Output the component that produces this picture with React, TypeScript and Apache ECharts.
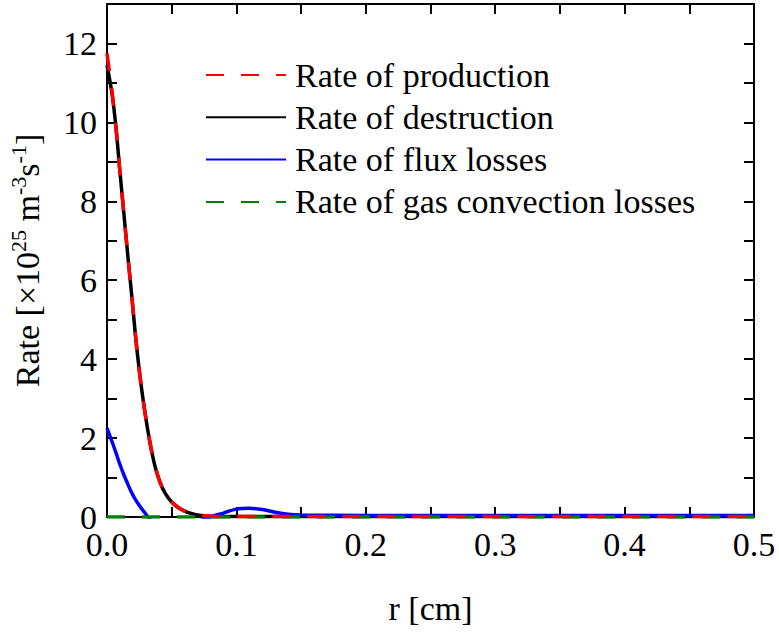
import React, { useEffect, useRef } from "react";
import * as echarts from "echarts";

// r positions [cm]
const rCoords = [0, 0.004, 0.007, 0.01, 0.013, 0.016, 0.019, 0.022, 0.025, 0.028, 0.031, 0.034, 0.037, 0.041, 0.045, 0.05, 0.055, 0.06, 0.065, 0.07, 0.08, 0.09, 0.1, 0.11, 0.12, 0.13, 0.14, 0.15, 0.2, 0.3, 0.4, 0.5];
// rates [x10^25 m^-3 s^-1]
const production = [11.75, 10.75, 9.85, 8.75, 7.7, 6.65, 5.65, 4.6, 3.7, 2.95, 2.3, 1.75, 1.3, 0.88, 0.6, 0.38, 0.24, 0.15, 0.09, 0.05, 0.02, 0.01, 0.01, 0.01, 0.01, 0.01, 0.01, 0.01, 0.01, 0.01, 0.01, 0.01];
const destruction = [11.45, 10.7, 9.85, 8.75, 7.7, 6.65, 5.65, 4.6, 3.7, 2.95, 2.3, 1.75, 1.3, 0.88, 0.6, 0.38, 0.24, 0.15, 0.09, 0.05, 0.02, 0.01, 0.01, 0.01, 0.01, 0.01, 0.01, 0.01, 0.01, 0.01, 0.01, 0.01];
const fluxLosses = [2.25, 1.9, 1.62, 1.33, 1.07, 0.84, 0.62, 0.44, 0.29, 0.16, 0.03, -0.08, -0.16, -0.24, -0.3, -0.34, -0.33, -0.28, -0.2, -0.12, 0.0, 0.1, 0.2, 0.22, 0.19, 0.12, 0.07, 0.05, 0.04, 0.04, 0.04, 0.04];
const convectionLosses = [0, 0, 0, 0, 0, 0, 0, 0, 0, 0, 0, 0, 0, 0, 0, 0, 0, 0, 0, 0, 0, 0, 0, 0, 0, 0, 0, 0, 0, 0, 0, 0];

const seriesNames = ["Rate of production", "Rate of destruction", "Rate of flux losses", "Rate of gas convection losses"];

const FONT = "Liberation Serif";

const pair = (vals: number[]) => rCoords.map((r, i) => [r, vals[i]]);

export default function App() {
  const ref = useRef<HTMLDivElement>(null);
  useEffect(() => {
    if (!ref.current) return;
    const chart = echarts.init(ref.current, null, { renderer: "svg" });
    const axisLine = { show: true, onZero: false, lineStyle: { color: "#000", width: 2 } };
    const axisTick = { show: true, inside: true, length: 10, lineStyle: { color: "#000", width: 2 } };
    const mk = (name: string, data: number[], color: string, type: any, z: number) => ({
      name,
      type: "line",
      data: pair(data),
      showSymbol: false,
      symbol: "none",
      smooth: 0.3,
      z,
      lineStyle: { color, width: 3.5, type },
      itemStyle: { color },
    });
    chart.setOption({
      animation: false,
      backgroundColor: "#fff",
      textStyle: { fontFamily: FONT, color: "#000" },
      grid: { left: 107, right: 25, top: 4, bottom: 115, containLabel: false, outerBoundsMode: "none" },
      legend: {
        orient: "vertical",
        left: 200,
        top: 53,
        padding: 5,
        itemWidth: 80,
        itemHeight: 2,
        itemGap: 8.3,
        data: seriesNames,
        itemStyle: { opacity: 0, borderWidth: 0 },
        textStyle: { fontFamily: FONT, fontSize: 34, color: "#000", padding: [0, 0, 0, 4] },
      },
      xAxis: [
        {
          type: "value",
          min: 0,
          max: 0.5,
          interval: 0.05,
          name: "r [cm]",
          nameLocation: "middle",
          nameGap: 74,
          nameTextStyle: { fontFamily: FONT, fontSize: 34, color: "#000" },
          axisLine,
          axisTick,
          splitLine: { show: false },
          axisLabel: {
            margin: 10,
            fontFamily: FONT,
            fontSize: 34,
            color: "#000",
            formatter: (v: number) => (Math.round(v * 100) % 10 === 0 ? v.toFixed(1) : ""),
          },
        },
        {
          type: "value",
          position: "top",
          min: 0,
          max: 0.5,
          interval: 0.05,
          axisLine,
          axisTick,
          splitLine: { show: false },
          axisLabel: { show: false },
        },
      ],
      yAxis: [
        {
          type: "value",
          min: 0,
          max: 13,
          interval: 1,
          name: "{n|Rate [×10}{s|25}{n| m}{s|-3}{n|s}{s|-1}{n|]}",
          nameLocation: "middle",
          nameGap: 60,
          nameTextStyle: {
            fontFamily: FONT,
            rich: {
              n: { fontFamily: FONT, fontSize: 34, color: "#000", lineHeight: 40 },
              s: { fontFamily: FONT, fontSize: 22, color: "#000", verticalAlign: "top", lineHeight: 22 },
            },
          },
          axisLine,
          axisTick,
          splitLine: { show: false },
          axisLabel: {
            margin: 10,
            fontFamily: FONT,
            fontSize: 34,
            color: "#000",
            formatter: (v: number) => (v % 2 === 0 && v <= 12 ? String(v) : ""),
          },
        },
        {
          type: "value",
          position: "right",
          min: 0,
          max: 13,
          interval: 1,
          axisLine,
          axisTick,
          splitLine: { show: false },
          axisLabel: { show: false },
        },
      ],
      series: [
        mk(seriesNames[0], production, "#ff0000", [18, 17], 5),
        mk(seriesNames[1], destruction, "#000000", "solid", 2),
        mk(seriesNames[2], fluxLosses, "#0000ff", "solid", 3),
        mk(seriesNames[3], convectionLosses, "#008000", [18, 17], 4),
      ],
    });
    return () => chart.dispose();
  }, []);
  return (
    <div
      ref={ref}
      style={{ position: "absolute", left: 0, top: 0, width: 779, height: 632 }}
    />
  );
}
